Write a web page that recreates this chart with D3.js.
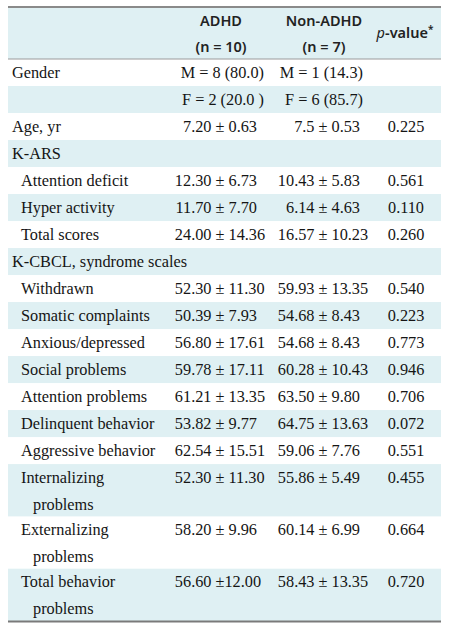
<!DOCTYPE html>
<html>
<head>
<meta charset="utf-8">
<script src="https://cdn.jsdelivr.net/npm/d3@7"></script>
<style>
  html, body { margin: 0; padding: 0; background: #fff; }
  svg { display: block; }
</style>
</head>
<body>
<svg id="chart" width="451" height="630"></svg>
<script>
// ---------- data ----------
const headerGroups = ["ADHD", "Non-ADHD"];
const headerCounts = ["(n = 10)", "(n = 7)"];
const pHeader = "p";
const pHeaderRest = "-value";

const rowLabels = [
  ["Gender"], [""], ["Age, yr"], ["K-ARS"],
  ["Attention deficit"], ["Hyper activity"], ["Total scores"],
  ["K-CBCL, syndrome scales"],
  ["Withdrawn"], ["Somatic complaints"], ["Anxious/depressed"], ["Social problems"],
  ["Attention problems"], ["Delinquent behavior"], ["Aggressive behavior"],
  ["Internalizing", "problems"], ["Externalizing", "problems"], ["Total behavior", "problems"]
];
const rowIndent = [0,0,0,0, 1,1,1, 0, 1,1,1,1,1,1,1, 1,1,1];
const adhdValues = [
  "M = 8 (80.0)", "F = 2 (20.0 )", "7.20 ± 0.63", "",
  "12.30 ± 6.73", "11.70 ± 7.70", "24.00 ± 14.36", "",
  "52.30 ± 11.30", "50.39 ± 7.93", "56.80 ± 17.61", "59.78 ± 17.11",
  "61.21 ± 13.35", "53.82 ± 9.77", "62.54 ± 15.51",
  "52.30 ± 11.30", "58.20 ± 9.96", "56.60 ±12.00"
];
const nonAdhdValues = [
  "M = 1 (14.3)", "F = 6 (85.7)", "7.5 ± 0.53", "",
  "10.43 ± 5.83", "6.14 ± 4.63", "16.57 ± 10.23", "",
  "59.93 ± 13.35", "54.68 ± 8.43", "54.68 ± 8.43", "60.28 ± 10.43",
  "63.50 ± 9.80", "64.75 ± 13.63", "59.06 ± 7.76",
  "55.86 ± 5.49", "60.14 ± 6.99", "58.43 ± 13.35"
];
const pValues = [
  "", "", "0.225", "",
  "0.561", "0.110", "0.260", "",
  "0.540", "0.223", "0.773", "0.946",
  "0.706", "0.072", "0.551",
  "0.455", "0.664", "0.720"
];

// ---------- layout ----------
const svg = d3.select("#chart");
const left = 8, right = 441;
const headTop = 8, headBottom = 59, tableBottom = 621;
const fill = "#dff0f3";
const serif = "'Liberation Serif', 'Times New Roman', serif";
const sans = "'Noto Sans', 'Open Sans', sans-serif";
const fs = 16.3;

// unit heights: single line rows = 1, two line rows ~1.94
const units = rowLabels.map(l => l.length === 1 ? 1 : 1.937);
const cum = [0];
units.forEach(u => cum.push(cum[cum.length - 1] + u));
const y = d3.scaleLinear().domain([0, cum[cum.length - 1]]).range([headBottom, tableBottom]);

const col = d3.scaleOrdinal().domain(["adhd", "non", "p"]).range([220, 323, 406]);
const lineStep = y(1) - y(0);

const rows = rowLabels.map((lab, i) => ({
  lab, indent: rowIndent[i], a: adhdValues[i], n: nonAdhdValues[i], p: pValues[i],
  y0: y(cum[i]), y1: y(cum[i + 1]), i
}));

// header background
svg.append("rect").attr("x", left).attr("y", headTop).attr("width", right - left)
  .attr("height", headBottom - headTop).attr("fill", fill);

// row backgrounds (odd rows shaded)
svg.selectAll("rect.row").data(rows.filter(r => r.i % 2 === 1)).join("rect")
  .attr("class", "row")
  .attr("x", left).attr("width", right - left)
  .attr("y", d => d.y0).attr("height", d => d.y1 - d.y0)
  .attr("fill", fill);

// lines
svg.append("line").attr("x1", left).attr("x2", right).attr("y1", 7).attr("y2", 7)
  .attr("stroke", "#8a8a8a").attr("stroke-width", 2);
svg.append("line").attr("x1", left).attr("x2", right).attr("y1", headBottom).attr("y2", headBottom)
  .attr("stroke", "#9a9a9a").attr("stroke-width", 1);
svg.append("line").attr("x1", left).attr("x2", right).attr("y1", tableBottom + 0.5).attr("y2", tableBottom + 0.5)
  .attr("stroke", "#7a7a7a").attr("stroke-width", 2);

// header text
const hdr = svg.append("g").attr("font-family", sans).attr("font-size", 14.5)
  .attr("font-weight", 600).attr("fill", "#222").attr("text-anchor", "middle");
["adhd", "non"].forEach((k, j) => {
  hdr.append("text").attr("x", col(k) + 1).attr("y", 26).text(headerGroups[j]);
  hdr.append("text").attr("x", col(k) + 1).attr("y", 52).text(headerCounts[j]);
});
const pt = hdr.append("text").attr("x", col("p") - 1).attr("y", 38);
pt.append("tspan").attr("font-style", "italic").attr("font-weight", 400).text(pHeader);
pt.append("tspan").text(pHeaderRest);
pt.append("tspan").attr("font-size", 10).attr("dy", -5).text("*");

// body
const body = svg.append("g").attr("font-family", serif).attr("font-size", fs).attr("fill", "#151515");

rows.forEach(r => {
  const base = r.y0 + 18.5;
  // labels
  r.lab.forEach((t, k) => {
    if (!t) return;
    const x = r.indent === 0 ? 12 : (k === 0 ? 21 : 33);
    body.append("text").attr("x", x).attr("y", base + k * lineStep).text(t);
  });
  // value cells
  [["adhd", r.a], ["non", r.n]].forEach(([k, v]) => {
    if (!v) return;
    const cx = col(k);
    if (v.includes("±")) {
      const [m, s] = v.split("±");
      body.append("text").attr("x", cx - 8.5).attr("y", base).attr("text-anchor", "end").text(m.trim());
      body.append("text").attr("x", cx - 4.5).attr("y", base).attr("xml:space", "preserve")
        .text("±" + s.replace(/\s+$/, ""));
    } else {
      const endX = k === "adhd" ? 264 : 363;
      body.append("text").attr("x", endX).attr("y", base).attr("text-anchor", "end")
        .attr("xml:space", "preserve").text(v);
    }
  });
  if (r.p) {
    body.append("text").attr("x", col("p")).attr("y", base).attr("text-anchor", "middle").text(r.p);
  }
});
</script>
</body>
</html>
